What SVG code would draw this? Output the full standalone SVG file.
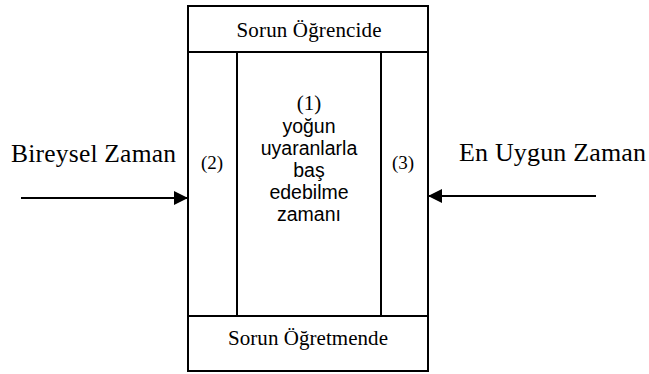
<svg xmlns="http://www.w3.org/2000/svg" width="649" height="374" viewBox="0 0 649 374">
<style>
.ln{stroke:#000;stroke-width:2;fill:none}
.serif{font-family:"Liberation Serif","Times New Roman",serif;fill:#000}
.sans{font-family:"Liberation Sans",Arial,sans-serif;fill:#000}
</style>
<defs>
<marker id="ah" viewBox="0 0 14 14" refX="14" refY="7" markerWidth="14" markerHeight="14" markerUnits="userSpaceOnUse" orient="auto">
<path d="M0,0 L14,7 L0,14 Z" fill="#000"/>
</marker>
</defs>
<rect width="649" height="374" fill="#fff"/>
<g id="box">
<rect class="ln" x="188" y="6" width="240" height="365"/>
</g>
<g id="top">
<line class="ln" x1="188" y1="52" x2="428" y2="52"/>
<text class="serif" x="309" y="37" font-size="21" text-anchor="middle" textLength="145">Sorun Öğrencide</text>
</g>
<g id="bottom">
<line class="ln" x1="188" y1="316" x2="428" y2="316"/>
<text class="serif" x="308" y="345" font-size="21" text-anchor="middle" textLength="160">Sorun Öğretmende</text>
</g>
<g id="left">
<line class="ln" x1="237" y1="52" x2="237" y2="316"/>
<text class="serif" x="212" y="169" font-size="19" text-anchor="middle">(2)</text>
</g>
<g id="right">
<line class="ln" x1="381" y1="52" x2="381" y2="316"/>
<text class="serif" x="403" y="169" font-size="19" text-anchor="middle">(3)</text>
</g>
<g id="center">
<text class="serif" x="309" y="110" font-size="21" text-anchor="middle">(1)</text>
<text class="sans" x="309" y="133" font-size="19.5" text-anchor="middle">yoğun</text>
<text class="sans" x="309" y="155" font-size="19.5" text-anchor="middle">uyaranlarla</text>
<text class="sans" x="309" y="177" font-size="19.5" text-anchor="middle">baş</text>
<text class="sans" x="309" y="199" font-size="19.5" text-anchor="middle">edebilme</text>
<text class="sans" x="309" y="221" font-size="19.5" text-anchor="middle">zamanı</text>
</g>
<g id="label-left">
<text class="serif" x="11" y="162" font-size="25.5" textLength="165">Bireysel Zaman</text>
</g>
<g id="label-right">
<text class="serif" x="459" y="161" font-size="26" textLength="187">En Uygun Zaman</text>
</g>
<g id="connectors">
<line class="ln" x1="21" y1="198" x2="188" y2="198" marker-end="url(#ah)"/>
<line class="ln" x1="596" y1="196" x2="428" y2="196" marker-end="url(#ah)"/>
</g>
</svg>
